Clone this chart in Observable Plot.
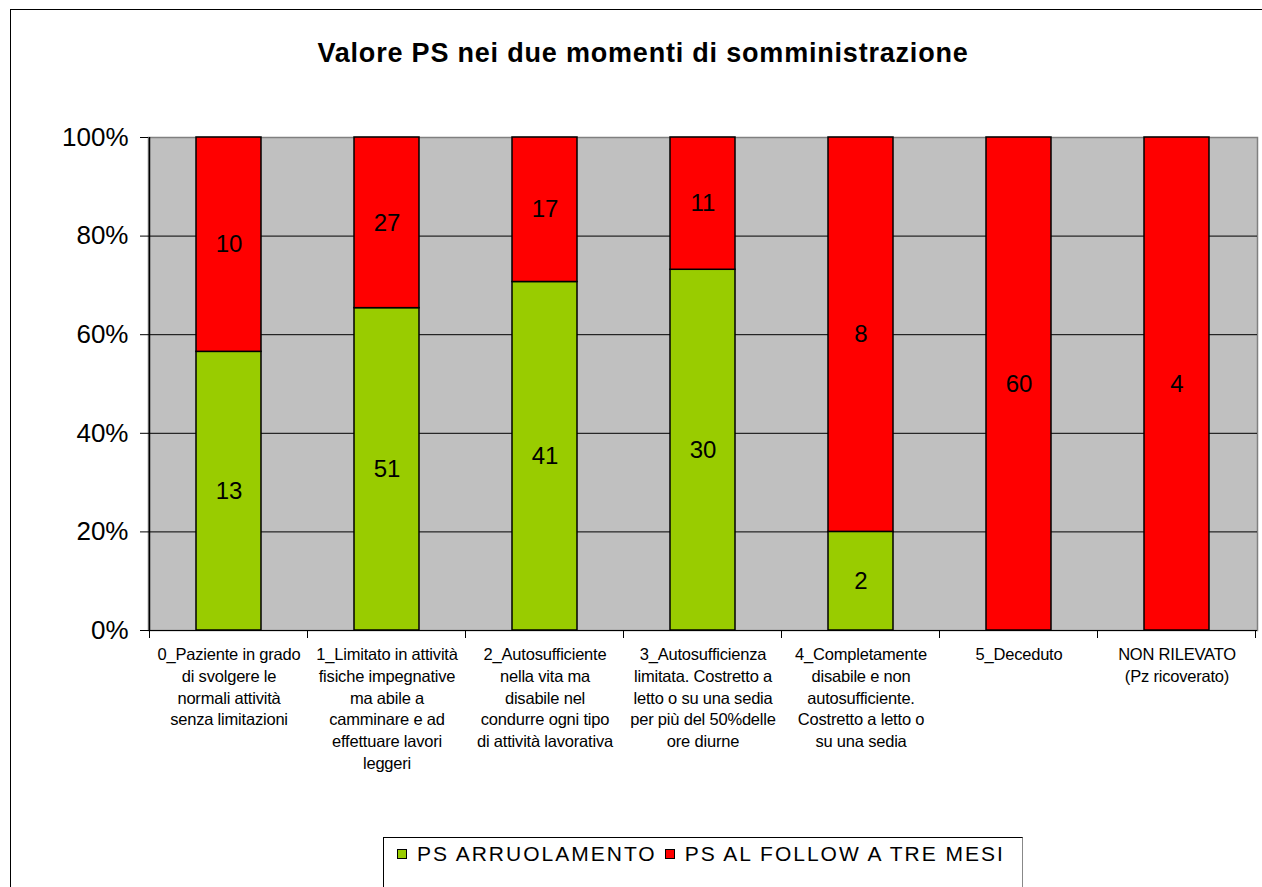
<!DOCTYPE html>
<html><head><meta charset="utf-8">
<script src="https://cdn.jsdelivr.net/npm/d3@7"></script>
<script src="https://cdn.jsdelivr.net/npm/@observablehq/plot@0.6"></script>
<style>
body{margin:0;background:#fff;font-family:Arial,"Liberation Sans",sans-serif}
#wrap{position:relative;width:1262px;height:887px;overflow:hidden}
#border{position:absolute;left:10px;top:9px;width:1300px;height:1000px;border:1.5px solid #000;box-sizing:border-box}
#title{position:absolute;left:10px;top:37px;width:1266px;text-align:center;font-weight:bold;font-size:27px;line-height:32px;letter-spacing:0.8px;color:#000}
#chart{position:absolute;left:0;top:0}
#chart g[aria-label="x-axis tick label"] text{letter-spacing:-0.2px}
#legend{position:absolute;left:383px;top:837px;width:640px;height:80px;border:1px solid #000;border-right-color:#888;box-sizing:border-box;font-size:21px;line-height:26px;letter-spacing:2px;padding:3px 0 0 13px;white-space:nowrap}
.sw{display:inline-block;width:8px;height:8px;border:1px solid #000;margin-right:10px;vertical-align:2px}
.it{margin-right:8px}
</style></head><body>
<div id="wrap">
<div id="border"></div>
<div id="chart"></div>
<div id="title">Valore PS nei due momenti di somministrazione</div>
<div id="legend"></div>
</div>
<script>
const categories = [
  "0_Paziente in grado\ndi svolgere le\nnormali attività\nsenza limitazioni",
  "1_Limitato in attività\nfisiche impegnative\nma abile a\ncamminare e ad\neffettuare lavori\nleggeri",
  "2_Autosufficiente\nnella vita ma\ndisabile nel\ncondurre ogni tipo\ndi attività lavorativa",
  "3_Autosufficienza\nlimitata. Costretto a\nletto o su una sedia\nper più del 50%delle\nore diurne",
  "4_Completamente\ndisabile e non\nautosufficiente.\nCostretto a letto o\nsu una sedia",
  "5_Deceduto",
  "NON RILEVATO\n(Pz ricoverato)"
];
const seriesNames = ["PS ARRUOLAMENTO", "PS AL FOLLOW A TRE MESI"];
const seriesColors = ["#99CC00", "#FF0000"];
const arruolamento = [13, 51, 41, 30, 2, 0, 0];
const followUp = [10, 27, 17, 11, 8, 60, 4];
const yTicks = [0, 0.2, 0.4, 0.6, 0.8, 1];

const data = [];
categories.forEach((c, i) => data.push({cat: c, series: seriesNames[0], value: arruolamento[i]}));
categories.forEach((c, i) => data.push({cat: c, series: seriesNames[1], value: followUp[i]}));
const nonZero = data.filter(d => d.value > 0);

const font = "Arial, 'Liberation Sans', sans-serif";
const chart = Plot.plot({
  width: 1262, height: 887,
  marginLeft: 148, marginRight: 5, marginTop: 137, marginBottom: 257,
  style: {fontFamily: font, background: "transparent", color: "#000"},
  x: {domain: categories, paddingInner: 0.59, paddingOuter: 0.295, label: null},
  y: {domain: [0, 1], label: null},
  color: {domain: seriesNames, range: seriesColors},
  marks: [
    Plot.frame({fill: "#C0C0C0", stroke: "#808080", strokeWidth: 1.5}),
    Plot.gridY(yTicks.slice(1, 5), {stroke: "#000", strokeOpacity: 1, strokeWidth: 1}),
    Plot.barY(nonZero, Plot.stackY({offset: "normalize", x: "cat", y: "value", z: "series", fill: "series", stroke: "#000", strokeWidth: 1.5})),
    Plot.text(nonZero, Plot.stackY({offset: "normalize", x: "cat", y: "value", z: "series", text: d => String(d.value), fontSize: 24, fill: "#000"})),
    Plot.ruleY([0], {stroke: "#000", strokeWidth: 1}),
    Plot.axisY({ticks: yTicks, tickFormat: d => Math.round(d * 100) + "%", fontSize: 26, tickSize: 8, tickPadding: 12, stroke: "#000"}),
    Plot.axisX({tickSize: 0, tickPadding: 14, fontSize: 16.5, lineHeight: 1.32, tickFormat: d => d})
  ]
});
document.getElementById("chart").appendChild(chart);

// boundary ticks and left axis line using the plot's own scales
const sx = chart.scale("x"), sy = chart.scale("y");
const step = sx.step || sx.bandwidth / (1 - 0.59);
const off = (step - sx.bandwidth) / 2;
const y0 = sy.apply(0), y1 = sy.apply(1);
const svg = d3.select(chart);
const bounds = categories.map(c => sx.apply(c) - off).concat([sx.apply(categories[categories.length - 1]) - off + step]);
svg.append("g").selectAll("line").data(bounds).join("line")
  .attr("x1", d => d).attr("x2", d => d).attr("y1", y0).attr("y2", y0 + 8)
  .attr("stroke", "#000");
svg.append("line").attr("x1", bounds[0]).attr("x2", bounds[0]).attr("y1", y1).attr("y2", y0 + 0.5)
  .attr("stroke", "#000").attr("stroke-width", 1.5);

const lg = d3.select("#legend");
seriesNames.forEach((s, i) => {
  const it = lg.append("span").attr("class", "it");
  it.append("span").attr("class", "sw").style("background", seriesColors[i]);
  it.append("span").text(s);
});
</script>
</body></html>
